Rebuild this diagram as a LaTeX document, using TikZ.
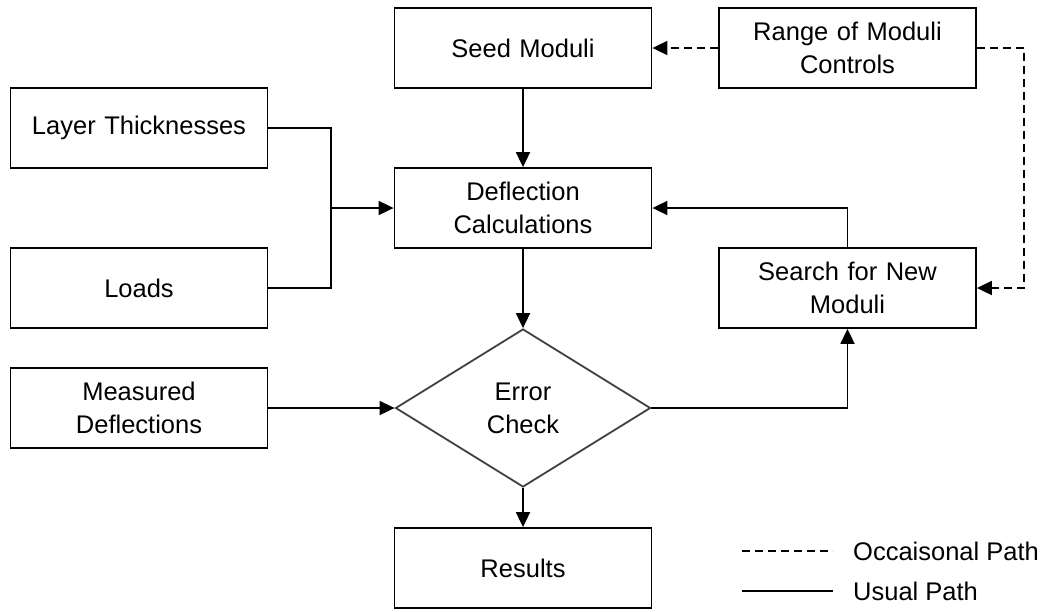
\documentclass[tikz,border=0pt]{standalone}
\usepackage{fontspec}
\setmainfont{Liberation Sans}
\usetikzlibrary{shapes.geometric,arrows.meta}
\begin{document}
\begin{tikzpicture}[x=1pt,y=-1pt,
  font=\fontsize{25.5}{33}\selectfont,
  box/.style={draw=black,line width=1.8pt,minimum width=257pt,minimum height=80pt,inner sep=0pt,align=center,text width=250pt},
  dec/.style={draw=black!75,line width=1.8pt,diamond,minimum width=255pt,minimum height=158pt,inner sep=0pt,align=center},
  conn/.style={line width=1.8pt},
  arr/.style={conn,-{Triangle[length=15pt,width=14pt]}},
  dsh/.style={dash pattern=on 8pt off 5pt}]
\useasboundingbox (0,0) rectangle (1049,611);
\node[box] (seed) at (523,48) {Seed Moduli};
\node[box] (range) at (847.5,48) {Range of Moduli\\Controls};
\node[box] (layer) at (139,128) {Layer Thicknesses};
\node[box] (defl) at (523,208) {Deflection\\Calculations};
\node[box] (loads) at (139,288) {Loads};
\node[box] (search) at (847.5,288) {Search for New\\Moduli};
\node[box] (meas) at (139,408) {Measured\\Deflections};
\node[dec] (err) at (523,408) {Error\\Check};
\node[box] (res) at (523,568) {Results};
\coordinate (jn) at (331,208);
\coordinate (rr) at (1024,48);
% connectors
\draw[arr] (seed) -- (defl);
\draw[arr,dsh] (range.west) -- (seed.east);
\draw[arr,dsh] (range.east) -- (rr) |- (search.east);
\draw[conn] (layer.east) -- (layer.east -| jn) -- (loads.east -| jn) -- (loads.east);
\draw[arr] (jn) -- (defl.west);
\draw[arr] (defl.south) -- (err.north);
\draw[arr] (meas.east) -- (err.west);
\draw[arr] (err.east) -| (search.south);
\draw[arr] (search.north) |- (defl.east);
\draw[arr] (err.south) -- (res.north);
% legend
\node[anchor=west,inner sep=0pt] (occ) at (853,551) {Occaisonal Path};
\node[anchor=west,inner sep=0pt] (usual) at (853,591) {Usual Path};
\coordinate (la) at (742,551);
\coordinate (lb) at (833,591);
\draw[conn,dsh,line width=1.5pt] (la) -- (la -| lb);
\draw[conn,line width=1.5pt] (lb -| la) -- (lb);
\end{tikzpicture}
\end{document}
